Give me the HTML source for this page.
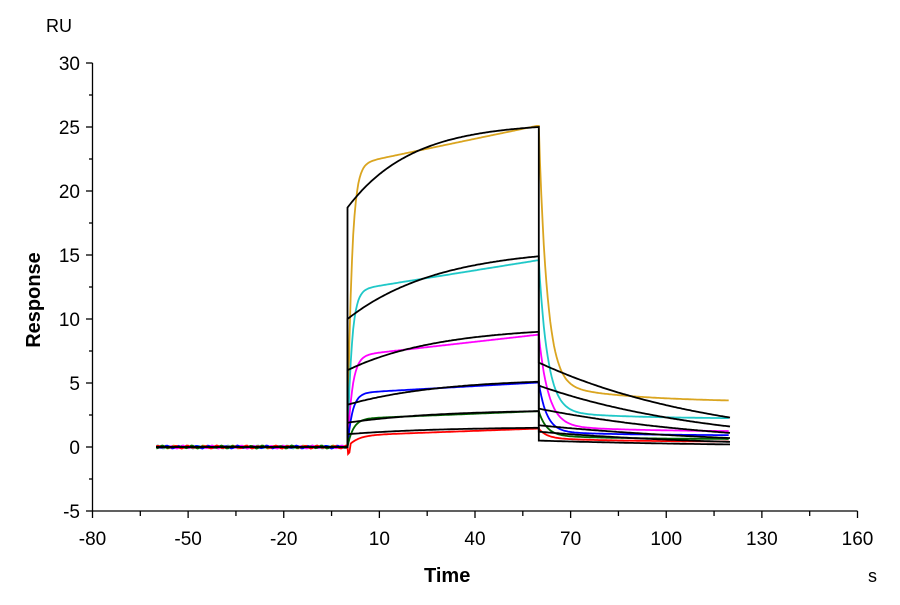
<!DOCTYPE html>
<html><head><meta charset="utf-8"><style>
html,body{margin:0;padding:0;background:#fff;}
svg text{font-family:"Liberation Sans",Arial,sans-serif;}
</style></head><body>
<svg id="s" width="900" height="600" xmlns="http://www.w3.org/2000/svg">
<g id="axes" stroke="#000" stroke-width="1.3" fill="none"></g>
<g id="lbl" font-size="19" fill="#000"></g>
<g id="data" fill="none"></g>
<text x="46" y="32" font-size="18">RU</text>
<text x="424" y="582" font-size="20" font-weight="bold">Time</text>
<text x="868" y="582" font-size="18">s</text>
<text transform="translate(40,300) rotate(-90)" font-size="20" font-weight="bold" text-anchor="middle">Response</text>
</svg>
<script>
const X=t=>92.5+(t+80)*3.1875, Y=v=>447-12.8*v;
const ns="http://www.w3.org/2000/svg";
function el(p,tag,a){const e=document.createElementNS(ns,tag);for(const k in a)e.setAttribute(k,a[k]);p.appendChild(e);return e;}
const ax=document.getElementById('axes'),lb=document.getElementById('lbl'),dt=document.getElementById('data');
el(ax,'line',{x1:92.5,y1:Y(30),x2:92.5,y2:511});
el(ax,'line',{x1:92.5,y1:511,x2:X(160),y2:511});
for(let v=-5;v<=30;v+=2.5){const maj=v%5==0;el(ax,'line',{x1:maj?86:89,y1:Y(v),x2:92.5,y2:Y(v)});
 if(maj){const t=el(lb,'text',{x:80,y:Y(v)+7,'text-anchor':'end'});t.textContent=v;}}
for(let t=-80;t<=160;t+=15){const maj=(t+80)%30==0;el(ax,'line',{x1:X(t),y1:511,x2:X(t),y2:maj?518:516});
 if(maj){const e=el(lb,'text',{x:X(t),y:545,'text-anchor':'middle'});e.textContent=t;}}
const cols=[
 {c:'#DAA520',A:22,s:0.052,tau:1.3,fast:2.6,base:3.5,slow:1.5,ts:25},
 {c:'#20C8C8',A:12.2,s:0.04,tau:1.3,fast:2.8,base:2.2,slow:0.6,ts:25},
 {c:'#FF00FF',A:7.1,s:0.028,tau:1.5,fast:3,base:1.2,slow:0.5,ts:25},
 {c:'#0000FF',A:4.2,s:0.014,tau:1.5,fast:2.5,base:0.9,slow:0.3,ts:25},
 {c:'#006400',A:2.2,s:0.01,tau:1.8,fast:2.5,base:0.6,slow:0.3,ts:25},
 {c:'#FF0000',A:0.9,s:0.009,tau:3,fast:2.5,base:0.4,slow:0.3,ts:25}];
function noise(i,t){return 0.12*Math.sin(t*1.7+i*2.3)*Math.sin(t*0.31+i);}
cols.forEach((o,i)=>{let d='';
 for(let t=-60;t<=0;t+=0.5)d+=(d?'L':'M')+X(t).toFixed(1)+' '+Y(noise(i,t)).toFixed(1);
 let endA=0;
 for(let t=0.2;t<=59.5;t+=0.4){const v=o.A*(1-Math.exp(-t/o.tau))+o.s*t-(i==5&&t<1?0.6:0);endA=v;d+='L'+X(t).toFixed(1)+' '+Y(v).toFixed(1);}
 for(let t=60;t<=120;t+=0.4){const u=t-60;const v=o.base+o.slow*Math.exp(-u/o.ts)+(endA-o.base-o.slow)*Math.exp(-u/o.fast);d+='L'+X(t).toFixed(1)+' '+Y(v).toFixed(1);}
 el(dt,'path',{d:d,stroke:o.c,'stroke-width':1.8});
});
const fits=[[18.7,25,0.05,6.6,2.3],[10,14.9,0.035,4.8,1.6],[6,9,0.035,3.0,1.1],[3.3,5.1,0.035,1.7,0.7],[1.9,2.8,0.035,1.2,0.4],[1.0,1.5,0.035,0.5,0.2]];
fits.forEach(f=>{const [a,e,k,d0,d1]=f;const b=(e-a)/(1-Math.exp(-k*60));const kd=Math.log(d0/d1)/60;
 let d='M'+X(-60)+' '+Y(0)+'L'+X(0)+' '+Y(0);
 for(let t=0;t<=60;t+=0.5)d+='L'+X(t).toFixed(1)+' '+Y(a+b*(1-Math.exp(-k*t))).toFixed(1);
 for(let t=60;t<=120;t+=0.5)d+='L'+X(t).toFixed(1)+' '+Y(d0*Math.exp(-kd*(t-60))).toFixed(1);
 el(dt,'path',{d:d,stroke:'#000','stroke-width':1.8});
});
</script>
</body></html>
